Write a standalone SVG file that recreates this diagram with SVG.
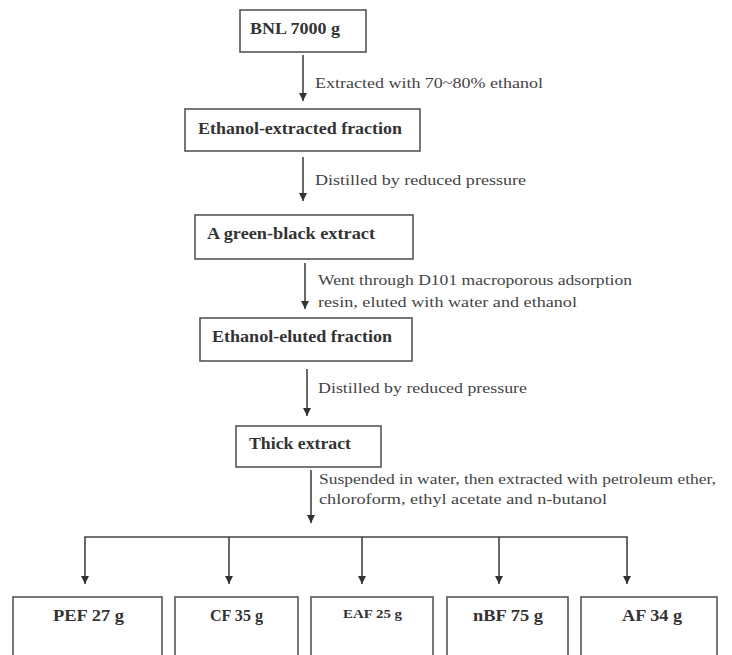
<svg xmlns="http://www.w3.org/2000/svg" width="732" height="655" viewBox="0 0 732 655">
<style>
.box{fill:#fff;stroke:#555;stroke-width:1.6}
.bt{font-family:"Liberation Serif","DejaVu Serif","Times New Roman",serif;font-weight:bold;font-size:16px;fill:#333}
.lt{font-family:"Liberation Serif","DejaVu Serif","Times New Roman",serif;font-size:15px;fill:#444}
.ln{fill:none;stroke:#444;stroke-width:1.6}
</style>
<defs>
<marker id="ah" viewBox="0 0 10 10" refX="10" refY="5" markerWidth="5" markerHeight="5" markerUnits="strokeWidth" orient="auto">
<path d="M0,0 L10,5 L0,10 z" fill="#333"/>
</marker>
</defs>
<rect width="732" height="655" fill="#fff"/>
<g id="connectors">
<line class="ln" x1="303" y1="55" x2="303" y2="101" marker-end="url(#ah)"/>
<line class="ln" x1="303" y1="157" x2="303" y2="201" marker-end="url(#ah)"/>
<line class="ln" x1="305" y1="263" x2="305" y2="309" marker-end="url(#ah)"/>
<line class="ln" x1="307" y1="369" x2="307" y2="416" marker-end="url(#ah)"/>
<line class="ln" x1="311" y1="470" x2="311" y2="523" marker-end="url(#ah)"/>
<line class="ln" x1="84.2" y1="537" x2="627.8" y2="537"/>
<line class="ln" x1="85" y1="537" x2="85" y2="584" marker-end="url(#ah)"/>
<line class="ln" x1="229" y1="537" x2="229" y2="584" marker-end="url(#ah)"/>
<line class="ln" x1="362" y1="537" x2="362" y2="584" marker-end="url(#ah)"/>
<line class="ln" x1="499" y1="537" x2="499" y2="584" marker-end="url(#ah)"/>
<line class="ln" x1="627" y1="537" x2="627" y2="584" marker-end="url(#ah)"/>
<text class="lt" x="315" y="88" textLength="228" lengthAdjust="spacingAndGlyphs">Extracted with 70~80% ethanol</text>
<text class="lt" x="315" y="185" textLength="211" lengthAdjust="spacingAndGlyphs">Distilled by reduced pressure</text>
<text class="lt" x="318" y="285" textLength="314" lengthAdjust="spacingAndGlyphs">Went through D101 macroporous adsorption</text>
<text class="lt" x="318" y="307" textLength="259" lengthAdjust="spacingAndGlyphs">resin, eluted with water and ethanol</text>
<text class="lt" x="318" y="393" textLength="209" lengthAdjust="spacingAndGlyphs">Distilled by reduced pressure</text>
<text class="lt" x="319" y="484" textLength="397" lengthAdjust="spacingAndGlyphs">Suspended in water, then extracted with petroleum ether,</text>
<text class="lt" x="319" y="504" textLength="288" lengthAdjust="spacingAndGlyphs">chloroform, ethyl acetate and n-butanol</text>
</g>
<g id="bnl">
<rect class="box" x="240" y="10" width="126" height="42"/>
<text class="bt" x="250" y="34" textLength="90" lengthAdjust="spacingAndGlyphs">BNL 7000 g</text>
</g>
<g id="ethanol-extracted">
<rect class="box" x="185" y="109" width="235" height="42"/>
<text class="bt" x="198" y="134" textLength="204" lengthAdjust="spacingAndGlyphs">Ethanol-extracted fraction</text>
</g>
<g id="green-black">
<rect class="box" x="195" y="215" width="218" height="44"/>
<text class="bt" x="207" y="239" textLength="168" lengthAdjust="spacingAndGlyphs">A green-black extract</text>
</g>
<g id="ethanol-eluted">
<rect class="box" x="200" y="318" width="212" height="43"/>
<text class="bt" x="212" y="342" textLength="180" lengthAdjust="spacingAndGlyphs">Ethanol-eluted fraction</text>
</g>
<g id="thick">
<rect class="box" x="236" y="426" width="145" height="41"/>
<text class="bt" x="249" y="449" textLength="102" lengthAdjust="spacingAndGlyphs">Thick extract</text>
</g>
<g id="pef">
<rect class="box" x="13" y="597" width="149" height="70"/>
<text class="bt" x="53" y="621" textLength="71" lengthAdjust="spacingAndGlyphs">PEF 27 g</text>
</g>
<g id="cf">
<rect class="box" x="175" y="597" width="123" height="70"/>
<text class="bt" x="210" y="621" textLength="53" lengthAdjust="spacingAndGlyphs">CF 35 g</text>
</g>
<g id="eaf">
<rect class="box" x="311" y="597" width="122" height="70"/>
<text class="bt" x="343" y="618" style="font-size:13px" textLength="59" lengthAdjust="spacingAndGlyphs">EAF 25 g</text>
</g>
<g id="nbf">
<rect class="box" x="447" y="597" width="121" height="70"/>
<text class="bt" x="473" y="621" textLength="70" lengthAdjust="spacingAndGlyphs">nBF 75 g</text>
</g>
<g id="af">
<rect class="box" x="581" y="597" width="136" height="70"/>
<text class="bt" x="622" y="621" textLength="60" lengthAdjust="spacingAndGlyphs">AF 34 g</text>
</g>
</svg>
